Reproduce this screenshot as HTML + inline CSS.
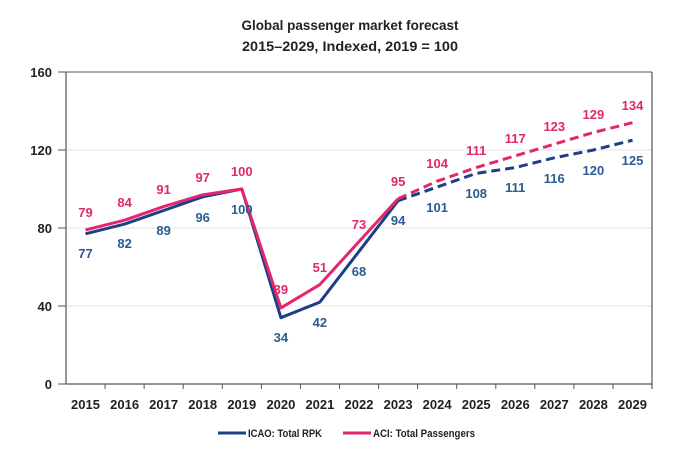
<!DOCTYPE html>
<html><head><style>body{margin:0;background:#fff}svg{display:block}text{font-family:"Liberation Sans",sans-serif;font-weight:bold}</style></head>
<body>
<svg width="700" height="463" viewBox="0 0 700 463">
<text x="350" y="30" text-anchor="middle" font-size="14" fill="#222" textLength="217" lengthAdjust="spacingAndGlyphs">Global passenger market forecast</text>
<text x="350" y="51" text-anchor="middle" font-size="14" fill="#222" textLength="216" lengthAdjust="spacingAndGlyphs">2015–2029, Indexed, 2019 = 100</text>
<g stroke="#e3e3e3" stroke-width="1">
<line x1="66" y1="150" x2="652" y2="150"/><line x1="66" y1="228" x2="652" y2="228"/><line x1="66" y1="306" x2="652" y2="306"/>
</g>
<line x1="66" y1="72" x2="652" y2="72" stroke="#555" stroke-width="1"/>
<line x1="66" y1="72" x2="66" y2="384" stroke="#555" stroke-width="1.2"/>
<line x1="652" y1="72" x2="652" y2="389" stroke="#555" stroke-width="1.2"/>
<line x1="66" y1="384" x2="652" y2="384" stroke="#555" stroke-width="1.2"/>
<g stroke="#555" stroke-width="1">
<line x1="58" y1="72" x2="66" y2="72"/><line x1="58" y1="150" x2="66" y2="150"/><line x1="58" y1="228" x2="66" y2="228"/><line x1="58" y1="306" x2="66" y2="306"/><line x1="58" y1="384" x2="66" y2="384"/>
<line x1="105.1" y1="384" x2="105.1" y2="389"/><line x1="144.1" y1="384" x2="144.1" y2="389"/><line x1="183.2" y1="384" x2="183.2" y2="389"/><line x1="222.3" y1="384" x2="222.3" y2="389"/><line x1="261.4" y1="384" x2="261.4" y2="389"/><line x1="300.4" y1="384" x2="300.4" y2="389"/><line x1="339.5" y1="384" x2="339.5" y2="389"/><line x1="378.6" y1="384" x2="378.6" y2="389"/><line x1="417.6" y1="384" x2="417.6" y2="389"/><line x1="456.7" y1="384" x2="456.7" y2="389"/><line x1="495.8" y1="384" x2="495.8" y2="389"/><line x1="534.8" y1="384" x2="534.8" y2="389"/><line x1="573.9" y1="384" x2="573.9" y2="389"/><line x1="613" y1="384" x2="613" y2="389"/>
</g>
<g font-size="13" fill="#222" text-anchor="end">
<text x="52" y="77">160</text><text x="52" y="155">120</text><text x="52" y="233">80</text><text x="52" y="311">40</text><text x="52" y="389">0</text>
</g>
<g font-size="13" fill="#222" text-anchor="middle">
<text x="85.5" y="409">2015</text><text x="124.6" y="409">2016</text><text x="163.6" y="409">2017</text><text x="202.7" y="409">2018</text><text x="241.8" y="409">2019</text><text x="280.9" y="409">2020</text><text x="319.9" y="409">2021</text><text x="359" y="409">2022</text><text x="398.1" y="409">2023</text><text x="437.1" y="409">2024</text><text x="476.2" y="409">2025</text><text x="515.3" y="409">2026</text><text x="554.3" y="409">2027</text><text x="593.4" y="409">2028</text><text x="632.5" y="409">2029</text>
</g>
<g fill="none" stroke-width="3" stroke-linejoin="round">
<polyline stroke="#1d3f85" points="85.5,233.8 124.6,224.1 163.6,210.5 202.7,196.8 241.8,189 280.9,317.7 319.9,302.1 359,251.4 398.1,200.7"/>
<polyline stroke="#1d3f85" stroke-dasharray="9,5" points="398.1,200.7 437.1,187.05 476.2,173.4 515.3,167.55 554.3,157.8 593.4,150 632.5,140.25"/>
<polyline stroke="#e2266f" points="85.5,229.95 124.6,220.2 163.6,206.55 202.7,194.85 241.8,189 280.9,307.95 319.9,284.55 359,241.65 398.1,198.75"/>
<polyline stroke="#e2266f" stroke-dasharray="9,5" points="398.1,198.75 437.1,181.2 476.2,167.55 515.3,155.85 554.3,144.15 593.4,132.45 632.5,122.7"/>
</g>
<g font-size="13" fill="#e2266f" text-anchor="middle">
<text x="85.5" y="217">79</text><text x="124.6" y="207">84</text><text x="163.6" y="194">91</text><text x="202.7" y="182">97</text><text x="241.8" y="176">100</text><text x="280.9" y="294">39</text><text x="319.9" y="272">51</text><text x="359" y="229">73</text><text x="398.1" y="186">95</text><text x="437.1" y="168">104</text><text x="476.2" y="155">111</text><text x="515.3" y="143">117</text><text x="554.3" y="131">123</text><text x="593.4" y="119">129</text><text x="632.5" y="110">134</text>
</g>
<g font-size="13" fill="#2a5b93" text-anchor="middle">
<text x="85.5" y="258">77</text><text x="124.6" y="248">82</text><text x="163.6" y="235">89</text><text x="202.7" y="222">96</text><text x="241.8" y="214">100</text><text x="280.9" y="342">34</text><text x="319.9" y="327">42</text><text x="359" y="276">68</text><text x="398.1" y="225">94</text><text x="437.1" y="212">101</text><text x="476.2" y="198">108</text><text x="515.3" y="192">111</text><text x="554.3" y="183">116</text><text x="593.4" y="175">120</text><text x="632.5" y="165">125</text>
</g>
<line x1="218" y1="433" x2="246" y2="433" stroke="#1d3f85" stroke-width="3"/>
<text x="248" y="437" font-size="11" fill="#222" textLength="74" lengthAdjust="spacingAndGlyphs">ICAO: Total RPK</text>
<line x1="343" y1="433" x2="371" y2="433" stroke="#e2266f" stroke-width="3"/>
<text x="373" y="437" font-size="11" fill="#222" textLength="102" lengthAdjust="spacingAndGlyphs">ACI: Total Passengers</text>
</svg>
</body></html>
